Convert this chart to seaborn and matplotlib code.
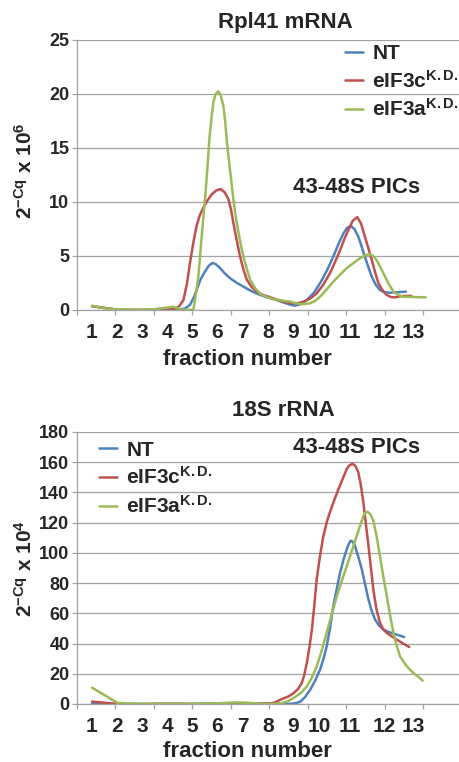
import numpy as np
import pandas as pd
import matplotlib
matplotlib.use("Agg")
import matplotlib.pyplot as plt
import seaborn as sns

# ---------------- data ----------------
samples = ["NT", "eIF3c", "eIF3a"]
legend_labels = ["NT", r"eIF3c$^{\mathrm{K.D.}}$", r"eIF3a$^{\mathrm{K.D.}}$"]
fraction_labels = [str(i) for i in range(1, 14)]

# Rpl41 mRNA (2^-Cq x 10^6)
rpl_nt_x = [1, 2, 3, 4, 4.45, 4.65, 4.84, 5.0, 5.1, 5.25, 5.43, 5.58, 5.72, 5.85, 6.02, 6.2,
            6.41, 6.65, 6.93, 7.25, 7.59, 7.9, 8.24, 8.5, 8.76, 8.96, 9.2, 9.42, 9.7, 9.94,
            10.2, 10.46, 10.68, 10.86, 11.0, 11.16, 11.3, 11.44, 11.57, 11.7, 11.84, 11.97,
            12.12, 12.29, 12.45, 12.69, 13.0, 13.31]
rpl_nt_y = [0.35, 0.02, 0.0, 0.05, 0.05, 0.15, 0.47, 1.2, 1.86, 2.8, 3.57, 4.1, 4.35, 4.25, 3.88, 3.4,
            2.95, 2.55, 2.17, 1.75, 1.4, 1.15, 0.93, 0.7, 0.5, 0.4, 0.55, 0.93, 1.6, 2.47,
            3.6, 4.94, 6.2, 7.1, 7.6, 7.78, 7.45, 6.8, 5.9, 4.94, 3.95, 3.09,
            2.35, 1.85, 1.65, 1.6, 1.65, 1.7]
rpl_c_x = [1, 2, 3, 4, 4.25, 4.42, 4.58, 4.72, 4.84, 4.97, 5.1, 5.23, 5.37, 5.53, 5.69, 5.86,
           6.04, 6.2, 6.35, 6.45, 6.54, 6.67, 6.8, 6.93, 7.07, 7.25, 7.46, 7.7, 7.98, 8.37,
           8.65, 8.9, 9.1, 9.29, 9.55, 9.81, 10.07, 10.33, 10.53, 10.73, 10.9, 11.05, 11.22,
           11.4, 11.55, 11.7, 11.84, 11.97, 12.1, 12.23, 12.4, 12.56, 12.72, 12.88, 13.05,
           13.2, 13.53]
rpl_c_y = [0.35, 0.02, 0.0, 0.15, 0.1, 0.35, 0.9, 2.4, 4.35, 6.2, 7.8, 8.8, 9.5, 10.15, 10.7, 11.05,
           11.2, 10.9, 10.25, 9.3, 8.1, 6.5, 5.0, 3.8, 2.8, 2.15, 1.7, 1.4, 1.18, 0.86,
           0.7, 0.62, 0.65, 0.77, 1.05, 1.54, 2.35, 3.4, 4.45, 5.56, 6.6, 7.4, 8.25,
           8.6, 8.0, 6.8, 5.7, 4.63, 3.5, 2.47, 1.8, 1.39, 1.2, 1.17, 1.25,
           1.3, 1.3]
rpl_a_x = [1, 1.5, 2, 3, 3.5, 4.19, 4.5, 4.97, 5.07, 5.17, 5.30, 5.43, 5.52, 5.6, 5.68, 5.76,
           5.85, 5.95, 6.05, 6.15, 6.22, 6.28, 6.36, 6.44, 6.52, 6.61, 6.74, 6.87, 7.03, 7.2,
           7.4, 7.59, 7.85, 8.11, 8.45, 8.76, 8.96, 9.16, 9.35, 9.55, 9.75, 9.94, 10.2, 10.46,
           10.72, 10.98, 11.25, 11.5, 11.7, 11.88, 12.02, 12.16, 12.32, 12.49, 12.65, 12.82,
           13.0, 13.2, 13.6, 14.08]
rpl_a_y = [0.4, 0.15, 0.05, 0.02, 0.08, 0.3, 0.05, 0.0, 1.4, 3.1, 6.8, 10.25, 13.0, 15.8, 17.7, 19.25,
           20.0, 20.25, 19.85, 18.9, 17.5, 15.8, 14.0, 12.4, 10.7, 9.0, 7.2, 5.6, 4.1, 2.8,
           2.0, 1.5, 1.2, 1.0, 0.88, 0.78, 0.65, 0.56, 0.56, 0.62, 0.85, 1.23, 1.9, 2.62,
           3.25, 3.86, 4.35, 4.78, 5.05, 5.19, 5.0, 4.63, 3.9, 3.09, 2.35, 1.7,
           1.4, 1.23, 1.2, 1.17]

# 18S rRNA (2^-Cq x 10^4)
rrna_nt_x = [1, 2, 3, 4, 5, 6, 7, 8, 8.5, 8.83, 9.0, 9.16, 9.35, 9.55, 9.75, 9.94, 10.07, 10.2,
             10.33, 10.46, 10.6, 10.73, 10.86, 10.99, 11.07, 11.14, 11.22, 11.31, 11.44, 11.58,
             11.71, 11.84, 11.97, 12.1, 12.25, 12.43, 12.62, 12.82, 13.03, 13.24]
rrna_nt_y = [0.5, 0, 0, 0, 0, 0.3, 0.5, 0.2, 0, 0.2, 0.6, 1.5, 4.5, 9.3, 15.5, 22.6, 29.5, 38,
             50, 64.7, 76.5, 87, 95.5, 102.4, 106, 108, 107.5, 104.7, 97.5, 89,
             79, 69.2, 61.5, 55.9, 52, 49.2, 47.7, 46.6, 45.5, 44.3]
rrna_c_x = [1, 2, 3, 4, 5, 6, 7, 8, 8.2, 8.37, 8.7, 8.9, 9.08, 9.22, 9.32, 9.42, 9.52, 9.62,
            9.72, 9.81, 9.94, 10.07, 10.2, 10.33, 10.5, 10.66, 10.83, 10.99, 11.1, 11.22,
            11.33, 11.44, 11.54, 11.64, 11.74, 11.84, 11.94, 12.03, 12.15, 12.29, 12.42,
            12.56, 12.75, 12.95, 13.2, 13.44]
rrna_c_y = [1.6, 0, 0, 0.2, 0, 0.3, 0.6, 0.3, 1.2, 2.7, 5, 7.1, 10, 13.7, 19, 27, 37, 49,
            66, 82.5, 98, 111, 120, 127, 135, 142, 149, 155.6, 158, 159,
            157.5, 153.4, 145, 133.5, 119, 104.7, 89.5, 75.8, 63, 53.7, 49.5,
            47, 44.8, 42.6, 40, 37.7]
rrna_a_x = [1, 2, 3, 4, 5, 6, 6.6, 7, 7.9, 8.2, 8.44, 8.7, 8.96, 9.2, 9.42, 9.62, 9.81, 10.0,
            10.2, 10.4, 10.6, 10.8, 10.99, 11.19, 11.38, 11.52, 11.64, 11.72, 11.8, 11.92,
            12.03, 12.16, 12.29, 12.42, 12.56, 12.69, 12.82, 12.95, 13.08, 13.3, 13.54,
            13.75, 13.97]
rrna_a_y = [10.8, 0.7, 0, 0.3, 0.2, 0.5, 1.1, 0.8, 0, 0.1, 0.5, 2.0, 4.6, 7.5, 11.5, 17.5, 24.8, 35,
            47, 59.5, 71.4, 81.8, 91.4, 101.5, 111.3, 118.5, 124.2, 126.5, 127.3, 125.5,
            121.3, 111, 98, 84.5, 71.4, 58.5, 47, 38.5, 31.5, 25.8, 21.5,
            18.5, 15.5]

# ---------------- layout / style ----------------
label_pos = [0.96, 1.98, 2.96, 3.94, 4.92, 5.92, 6.92, 7.91, 8.89, 9.91, 11.09, 12.45, 13.58]
colors = ["#4F81BD", "#C0504D", "#9BBB59"]
grid_col = "#a3a3a3"

sns.set_theme(style="white")
plt.rcParams["font.family"] = ["Liberation Sans", "DejaVu Sans"]
plt.rcParams["font.weight"] = "bold"
plt.rcParams["mathtext.fontset"] = "custom"
plt.rcParams["mathtext.rm"] = "Liberation Sans"
plt.rcParams["mathtext.it"] = "Liberation Sans:italic"
plt.rcParams["mathtext.bf"] = "Liberation Sans:bold"


def make_df(xs, ys):
    frames = []
    for s, x, y in zip(samples, xs, ys):
        frames.append(pd.DataFrame({"fraction": x, "value": y, "sample": s}))
    return pd.concat(frames, ignore_index=True)


df_rpl = make_df([rpl_nt_x, rpl_c_x, rpl_a_x], [rpl_nt_y, rpl_c_y, rpl_a_y])
df_rrna = make_df([rrna_nt_x, rrna_c_x, rrna_a_x], [rrna_nt_y, rrna_c_y, rrna_a_y])

W, H = 460, 762
fig = plt.figure(figsize=(W / 100, H / 100), dpi=100)
ax1 = fig.add_axes([77 / W, (H - 310) / H, 383 / W, 270 / H])
ax2 = fig.add_axes([77 / W, (H - 704) / H, 383 / W, 272 / H])

xlim = (0.41, 15.43)
minor_ticks = 0.41 + 1.508 * np.arange(10)


def style_axis(ax, ymax, ystep, title, title_xy, pics_xy, leg_anchor, xlab_y):
    ax.set_xlim(*xlim)
    ax.set_ylim(0, ymax)
    yt = np.arange(0, ymax + 0.1, ystep)
    ax.set_yticks(yt)
    ax.set_yticklabels([f"{int(v)}" for v in yt])
    ax.set_xticks(label_pos)
    ax.set_xticklabels(fraction_labels)
    ax.set_xticks(minor_ticks, minor=True)
    ax.grid(axis="y", color=grid_col, linewidth=0.9)
    ax.grid(axis="x", visible=False)
    ax.set_axisbelow(True)
    for sp in ["top", "right"]:
        ax.spines[sp].set_visible(False)
    for sp in ["left", "bottom"]:
        ax.spines[sp].set_color(grid_col)
        ax.spines[sp].set_linewidth(0.9)
    ax.tick_params(axis="y", which="major", length=3.4, width=0.9, color=grid_col,
                   pad=2, labelsize=13, left=True)
    ax.tick_params(axis="x", which="major", length=0, pad=9, labelsize=15)
    ax.tick_params(axis="x", which="minor", length=3.6, width=0.9, color=grid_col,
                   bottom=True, direction="out")
    for t in ax.get_xticklabels() + ax.get_yticklabels():
        t.set_fontweight("bold")
    ax.set_xlabel("")
    ax.set_ylabel("")
    ax.text(title_xy[0], title_xy[1], title, transform=ax.transAxes, ha="center",
            va="baseline", fontsize=16, fontweight="bold")
    ax.text(0.445, xlab_y, "fraction number", transform=ax.transAxes, ha="center",
            va="baseline", fontsize=16, fontweight="bold")
    ax.text(pics_xy[0], pics_xy[1], "43-48S PICs", ha="center", va="baseline",
            fontsize=16, fontweight="bold")
    lines = ax.get_lines()[:3]
    ax.legend(lines, legend_labels, loc="upper left", bbox_to_anchor=leg_anchor,
              frameon=False, prop={"weight": "bold", "size": 15}, handlelength=0.87,
              handletextpad=0.45, labelspacing=0.32, borderpad=0, borderaxespad=0)
    return ax


for ax, df in [(ax1, df_rpl), (ax2, df_rrna)]:
    sns.lineplot(data=df, x="fraction", y="value", hue="sample", hue_order=samples,
                 palette=colors, estimator=None, sort=True, linewidth=1.8, ax=ax,
                 legend=False)

style_axis(ax1, 25, 5, "Rpl41 mRNA", (0.544, 1.043), (11.39, 10.87), (0.699, 0.985), -0.202)
style_axis(ax2, 180, 20, "18S rRNA", (0.540, 1.059), (11.39, 165.9), (0.057, 0.968), -0.194)

fig.text(32 / W, (H - 171) / H, r"2$^{\mathrm{-Cq}}$ x 10$^{\mathrm{6}}$", rotation=90,
         rotation_mode="anchor", ha="center", va="baseline", fontsize=15, fontweight="bold")
fig.text(32 / W, (H - 568) / H, r"2$^{\mathrm{-Cq}}$ x 10$^{\mathrm{4}}$", rotation=90,
         rotation_mode="anchor", ha="center", va="baseline", fontsize=15, fontweight="bold")

fig.savefig("out.png", dpi=100)
